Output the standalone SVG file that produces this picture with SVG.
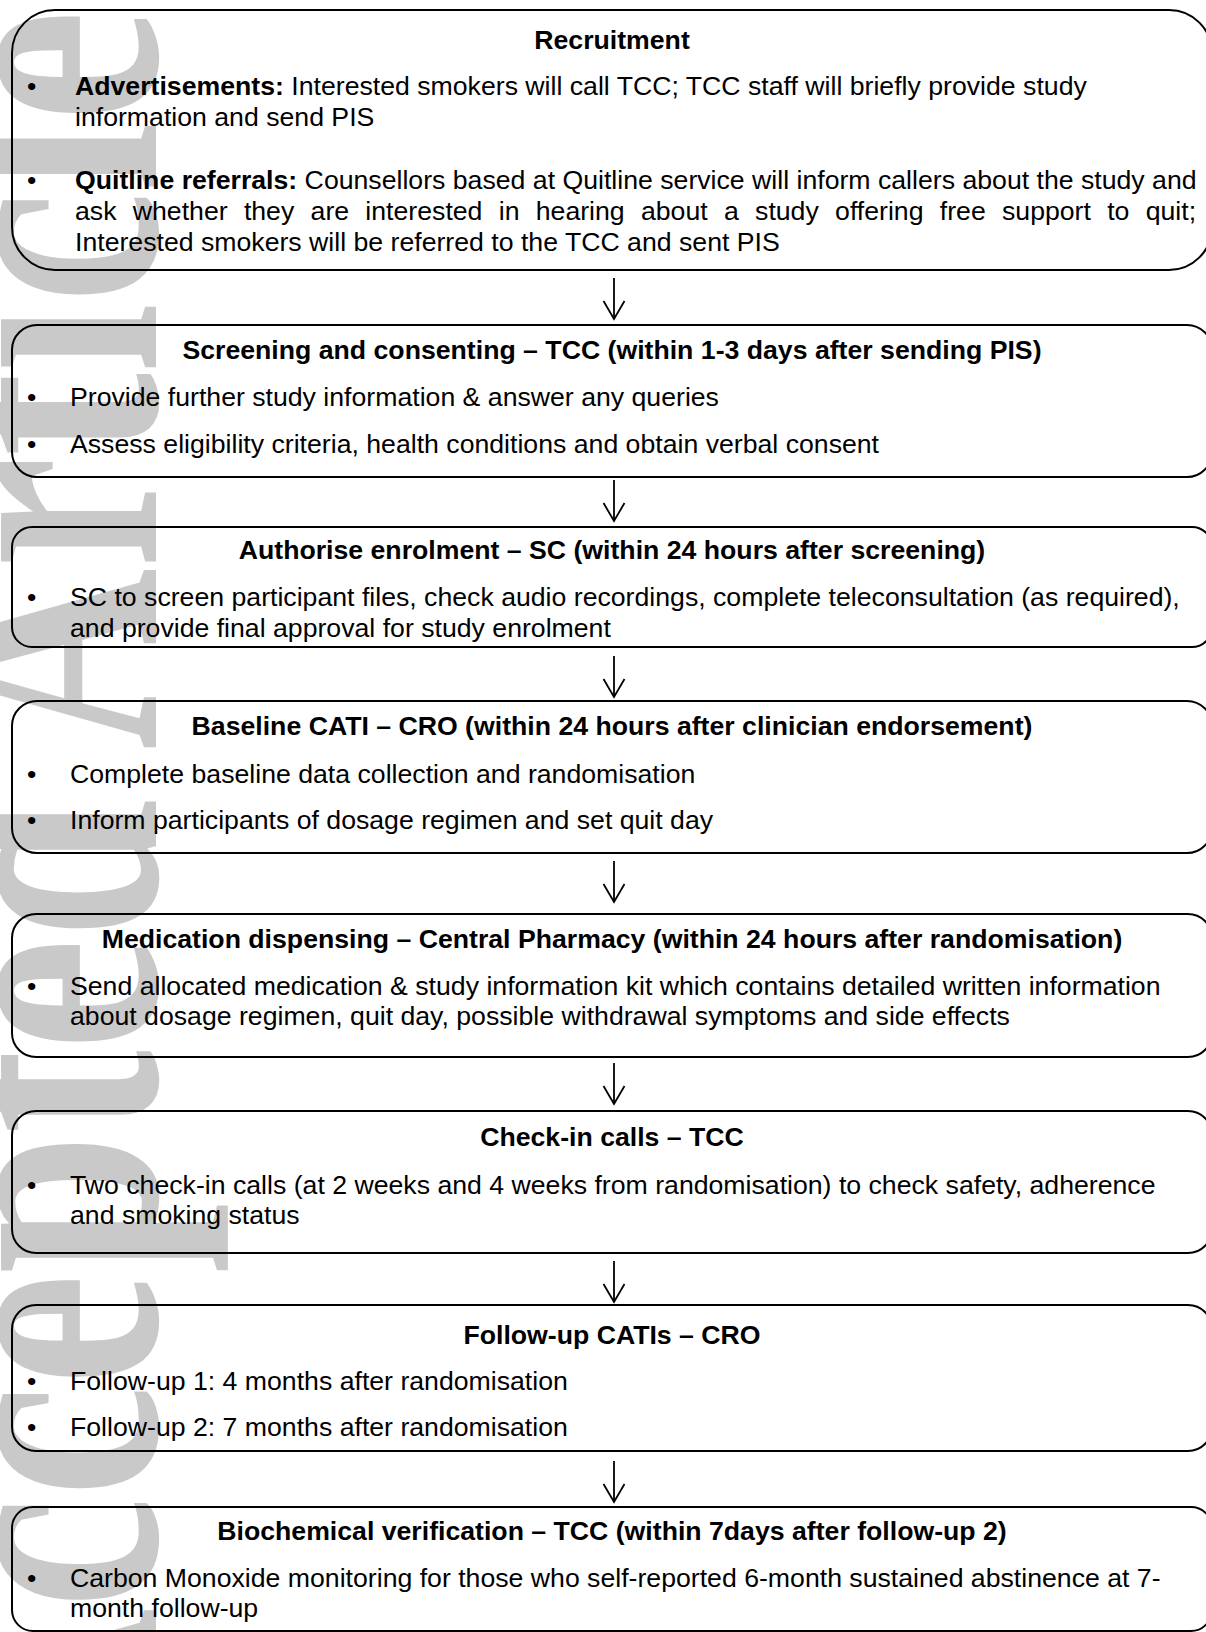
<svg xmlns="http://www.w3.org/2000/svg" width="1206" height="1632" viewBox="0 0 1206 1632">
<defs>
<style>
.wm{font-family:"Liberation Serif","Times New Roman",serif;font-weight:bold;fill:#c9c9c9;}
.box{fill:none;stroke:#000;stroke-width:2;}
.t{font-family:"Liberation Sans",Arial,sans-serif;font-size:26.67px;fill:#000;}
.h{font-weight:bold;text-anchor:middle;}
.b{font-weight:bold;}
.con{stroke:#000;stroke-width:1.8;fill:none;}
</style>
<marker id="arr" markerUnits="userSpaceOnUse" markerWidth="24" markerHeight="24" viewBox="0 0 24 24" refX="19" refY="12" orient="auto" overflow="visible">
<path d="M1,1.5 L19,12 L1,22.5" fill="none" stroke="#000" stroke-width="1.8"/>
</marker>
</defs>
<rect width="1206" height="1632" fill="#fff"/>
<text class="wm" font-size="250" transform="translate(156,1790) rotate(-90) scale(1,1.35)" textLength="1780" lengthAdjust="spacingAndGlyphs">Accepted Article</text>

<g id="connectors">
<path class="con" d="M614,278 V319" marker-end="url(#arr)"/>
<path class="con" d="M614,480 V521" marker-end="url(#arr)"/>
<path class="con" d="M614,656 V697" marker-end="url(#arr)"/>
<path class="con" d="M614,861 V902" marker-end="url(#arr)"/>
<path class="con" d="M614,1063 V1104" marker-end="url(#arr)"/>
<path class="con" d="M614,1261 V1302" marker-end="url(#arr)"/>
<path class="con" d="M614,1461 V1502" marker-end="url(#arr)"/>
</g>

<g id="recruitment">
<rect class="box" x="12" y="10" width="1200" height="260" rx="43" ry="43"/>
<text class="t h" x="612" y="49">Recruitment</text>
<text class="t" x="27" y="95">•</text>
<text class="t" x="75" y="95"><tspan class="b">Advertisements:</tspan> Interested smokers will call TCC; TCC staff will briefly provide study</text>
<text class="t" x="75" y="126">information and send PIS</text>
<text class="t" x="27" y="189">•</text>
<text class="t" x="75" y="189"><tspan class="b">Quitline referrals:</tspan> Counsellors based at Quitline service will inform callers about the study and</text>
<text class="t" x="75" y="220" word-spacing="8.88">ask whether they are interested in hearing about a study offering free support to quit;</text>
<text class="t" x="75" y="251">Interested smokers will be referred to the TCC and sent PIS</text>
</g>

<g id="screening">
<rect class="box" x="12" y="325" width="1200" height="152" rx="25" ry="25"/>
<text class="t h" x="612" y="359">Screening and consenting – TCC (within 1-3 days after sending PIS)</text>
<text class="t" x="27" y="406">•</text>
<text class="t" x="70" y="406">Provide further study information &amp; answer any queries</text>
<text class="t" x="27" y="453">•</text>
<text class="t" x="70" y="453">Assess eligibility criteria, health conditions and obtain verbal consent</text>
</g>

<g id="authorise">
<rect class="box" x="12" y="527" width="1200" height="120" rx="20" ry="20"/>
<text class="t h" x="612" y="559">Authorise enrolment – SC (within 24 hours after screening)</text>
<text class="t" x="27" y="606">•</text>
<text class="t" x="70" y="606">SC to screen participant files, check audio recordings, complete teleconsultation (as required),</text>
<text class="t" x="70" y="637">and provide final approval for study enrolment</text>
</g>

<g id="baseline">
<rect class="box" x="12" y="701" width="1200" height="152" rx="25" ry="25"/>
<text class="t h" x="612" y="735">Baseline CATI – CRO (within 24 hours after clinician endorsement)</text>
<text class="t" x="27" y="783">•</text>
<text class="t" x="70" y="783">Complete baseline data collection and randomisation</text>
<text class="t" x="27" y="829">•</text>
<text class="t" x="70" y="829">Inform participants of dosage regimen and set quit day</text>
</g>

<g id="medication">
<rect class="box" x="12" y="914" width="1200" height="143" rx="24" ry="24"/>
<text class="t h" x="612" y="948">Medication dispensing – Central Pharmacy (within 24 hours after randomisation)</text>
<text class="t" x="27" y="995">•</text>
<text class="t" x="70" y="995">Send allocated medication &amp; study information kit which contains detailed written information</text>
<text class="t" x="70" y="1025">about dosage regimen, quit day, possible withdrawal symptoms and side effects</text>
</g>

<g id="checkin">
<rect class="box" x="12" y="1111" width="1200" height="142" rx="24" ry="24"/>
<text class="t h" x="612" y="1146">Check-in calls – TCC</text>
<text class="t" x="27" y="1194">•</text>
<text class="t" x="70" y="1194">Two check-in calls (at 2 weeks and 4 weeks from randomisation) to check safety, adherence</text>
<text class="t" x="70" y="1224">and smoking status</text>
</g>

<g id="followup">
<rect class="box" x="12" y="1305" width="1200" height="146" rx="24" ry="24"/>
<text class="t h" x="612" y="1344">Follow-up CATIs – CRO</text>
<text class="t" x="27" y="1390">•</text>
<text class="t" x="70" y="1390">Follow-up 1: 4 months after randomisation</text>
<text class="t" x="27" y="1436">•</text>
<text class="t" x="70" y="1436">Follow-up 2: 7 months after randomisation</text>
</g>

<g id="biochemical">
<rect class="box" x="12" y="1507" width="1200" height="124" rx="21" ry="21"/>
<text class="t h" x="612" y="1540">Biochemical verification – TCC (within 7days after follow-up 2)</text>
<text class="t" x="27" y="1587">•</text>
<text class="t" x="70" y="1587">Carbon Monoxide monitoring for those who self-reported 6-month sustained abstinence at 7-</text>
<text class="t" x="70" y="1617">month follow-up</text>
</g>
</svg>
